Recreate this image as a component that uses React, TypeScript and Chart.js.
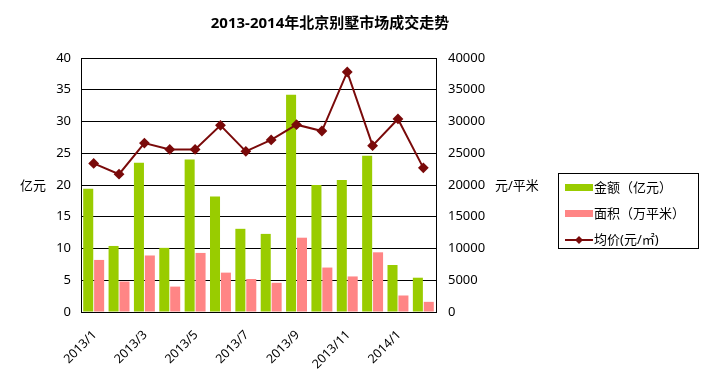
import React, { useEffect, useRef } from "react";
import { Chart, registerables } from "chart.js";

Chart.register(...registerables);

const categories = [
  "2013/1", "2013/2", "2013/3", "2013/4", "2013/5", "2013/6", "2013/7",
  "2013/8", "2013/9", "2013/10", "2013/11", "2013/12", "2014/1", "2014/2",
];
const amount = [19.4, 10.4, 23.5, 10.1, 24.0, 18.2, 13.1, 12.3, 34.2, 20.0, 20.8, 24.6, 7.4, 5.4];
const area = [8.2, 4.8, 8.9, 4.0, 9.3, 6.2, 5.2, 4.6, 11.7, 7.0, 5.6, 9.4, 2.6, 1.6];
const avgPrice = [23400, 21700, 26600, 25600, 25600, 29400, 25300, 27100, 29500, 28500, 37800, 26200, 30400, 22700];
const leftTicks = [0, 40, 5];
const rightTicks = [0, 40000, 5000];

const titleText = "2013-2014年北京别墅市场成交走势";
const legendLabels = ["金额（亿元）", "面积（万平米）", "均价(元/㎡)"];

const FONT = "'Noto Sans', 'Noto Sans CJK SC', sans-serif";
const GREEN = "#99CC00";
const PINK = "#FF8585";
const RED = "#7A0A0A";

const overlay = {
  id: "overlay",
  afterDraw(chart: any) {
    const ctx = chart.ctx;
    ctx.save();
    ctx.fillStyle = "#000";
    ctx.textBaseline = "middle";
    ctx.font = `bold 15px ${FONT}`;
    ctx.textAlign = "center";
    ctx.fillText(titleText, 330, 24);
    ctx.font = `13px ${FONT}`;
    ctx.textAlign = "left";
    ctx.fillText("亿元", 20, 186);
    ctx.fillText("元/平米", 495, 186);
    // x labels
    const xs = chart.scales.x;
    ctx.font = `12.5px ${FONT}`;
    ctx.textAlign = "right";
    categories.forEach((c, i) => {
      if (i % 2 !== 0) return;
      const px = xs.getPixelForTick(i);
      ctx.save();
      ctx.translate(px + 1, 333);
      ctx.rotate(-Math.PI / 4);
      ctx.fillText(c, 0, 0);
      ctx.restore();
    });
    // legend
    ctx.textAlign = "left";
    ctx.strokeStyle = "#000";
    ctx.lineWidth = 1;
    ctx.strokeRect(558.5, 173.5, 140, 75);
    ctx.fillStyle = GREEN;
    ctx.fillRect(565, 184, 28, 7);
    ctx.fillStyle = PINK;
    ctx.fillRect(565, 210, 28, 7);
    ctx.strokeStyle = RED;
    ctx.lineWidth = 2;
    ctx.beginPath();
    ctx.moveTo(565, 240);
    ctx.lineTo(593, 240);
    ctx.stroke();
    ctx.fillStyle = RED;
    ctx.beginPath();
    ctx.moveTo(579, 236);
    ctx.lineTo(583, 240);
    ctx.lineTo(579, 244);
    ctx.lineTo(575, 240);
    ctx.closePath();
    ctx.fill();
    ctx.fillStyle = "#000";
    ctx.font = `13px ${FONT}`;
    ctx.fillText(legendLabels[0], 594, 188);
    ctx.fillText(legendLabels[1], 594, 214);
    ctx.fillText(legendLabels[2], 594, 240);
    ctx.restore();
  },
};

export default function App() {
  const ref = useRef<HTMLCanvasElement>(null);
  useEffect(() => {
    const chart = new Chart(ref.current!, {
      type: "bar",
      data: {
        labels: categories,
        datasets: [
          {
            type: "line",
            label: legendLabels[2],
            data: avgPrice,
            yAxisID: "y2",
            borderColor: RED,
            backgroundColor: RED,
            borderWidth: 2,
            pointStyle: "rectRot",
            pointRadius: 4,
            pointBackgroundColor: RED,
            pointBorderColor: RED,
            tension: 0,
            order: 0,
          } as any,
          {
            label: legendLabels[0],
            data: amount,
            yAxisID: "y",
            backgroundColor: GREEN,
            categoryPercentage: 0.86,
            barPercentage: 0.92,
            order: 1,
          },
          {
            label: legendLabels[1],
            data: area,
            yAxisID: "y",
            backgroundColor: PINK,
            categoryPercentage: 0.86,
            barPercentage: 0.92,
            order: 1,
          },
        ],
      },
      options: {
        animation: false,
        responsive: false,
        maintainAspectRatio: false,
        layout: { padding: { left: 0, right: 0, top: 58, bottom: 0 } },
        plugins: {
          legend: { display: false },
          title: { display: false },
          tooltip: { enabled: false },
        },
        scales: {
          x: {
            grid: { display: false, drawTicks: false },
            border: { display: true, color: "#000", width: 1 },
            ticks: { display: false },
            afterFit: (s: any) => { s.height = 75; },
          },
          y: {
            position: "left",
            min: leftTicks[0],
            max: leftTicks[1],
            ticks: { stepSize: leftTicks[2], color: "#000", font: { family: FONT, size: 13 }, padding: 10 },
            grid: { color: "#000", drawTicks: false, lineWidth: 1 },
            border: { display: true, color: "#000" },
            afterFit: (s: any) => { s.width = 81; },
          },
          y2: {
            position: "right",
            min: rightTicks[0],
            max: rightTicks[1],
            ticks: {
              stepSize: rightTicks[2],
              color: "#000",
              font: { family: FONT, size: 13 },
              padding: 12,
              callback: (v: any) => String(v),
            },
            grid: { display: false, drawTicks: false },
            border: { display: true, color: "#000" },
            afterFit: (s: any) => { s.width = 266; },
          },
        },
      },
      plugins: [overlay],
    });
    return () => chart.destroy();
  }, []);
  return (
    <div style={{ position: "fixed", left: 0, top: 0, width: 702, height: 387, background: "#fff" }}>
      <canvas ref={ref} width={702} height={387} style={{ width: 702, height: 387 }} />
    </div>
  );
}
